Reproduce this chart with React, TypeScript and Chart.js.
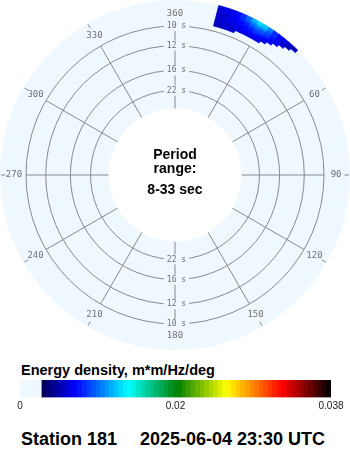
import React, { useEffect, useRef } from 'react';
import { Chart, registerables } from 'chart.js';

Chart.register(...registerables);

// ---------------- data ----------------
const directionLabels = ['360', '30', '60', '90', '120', '150', '180', '210', '240', '270', '300', '330'];
const periodRings = [22, 16, 12, 10]; // seconds
const periodRange = [8, 33]; // seconds
const stationName = 'Station 181';
const timestamp = '2025-06-04 23:30 UTC';
const colorbarTitle = 'Energy density, m*m/Hz/deg';
const colorbarTickValues = [0, 0.019, 0.038];
const colorbarTickLabels = ['0', '0.02', '0.038'];
const energyMin = 0;
const energyMax = 0.038;
const energyThreshold = 0.0026;

// spectrum cells: direction bin edges (deg) and frequency bin edges (Hz)
const dirEdges = [14.5, 16.5, 18.5, 20.5, 22.5, 24.5, 26.5, 28.5, 30.5, 32.5, 34.5, 36.5, 38.5, 40.5, 42.5, 44.5];
const freqEdges = [0.1042, 0.1063, 0.1084, 0.1106, 0.1127, 0.1148, 0.1169, 0.119, 0.122];
// energy density per frequency bin (inner -> outer), one value per direction bin
const energyF1 = [0.0052, 0.0053, 0.0055, 0.0056, 0, 0, 0, 0, 0, 0, 0, 0, 0, 0, 0];
const energyF2 = [0.0053, 0.0055, 0.0057, 0.0058, 0.006, 0.0061, 0.0062, 0.0063, 0.0062, 0, 0, 0, 0, 0, 0];
const energyF3 = [0.0054, 0.0056, 0.0058, 0.006, 0.0062, 0.0065, 0.0067, 0.0069, 0.0068, 0.0064, 0, 0, 0, 0, 0];
const energyF4 = [0.0055, 0.0057, 0.006, 0.0062, 0.0065, 0.0069, 0.0073, 0.0076, 0.0075, 0.007, 0.0063, 0, 0, 0, 0];
const energyF5 = [0.0056, 0.0058, 0.0061, 0.0064, 0.0068, 0.0074, 0.008, 0.0084, 0.0082, 0.0076, 0.0068, 0.006, 0, 0, 0];
const energyF6 = [0.0057, 0.0059, 0.0062, 0.0066, 0.0072, 0.008, 0.0088, 0.0094, 0.0092, 0.0082, 0.0072, 0.0063, 0.0056, 0, 0];
const energyF7 = [0.0058, 0.006, 0.0063, 0.0068, 0.0076, 0.0088, 0.01, 0.0108, 0.0104, 0.009, 0.0076, 0.0066, 0.0058, 0.0053, 0];
const energyF8 = [0.0058, 0.006, 0.0064, 0.007, 0.008, 0.0094, 0.011, 0.0124, 0.0118, 0.0098, 0.008, 0.0068, 0.006, 0.0055, 0.005];
const energyRows = [energyF1, energyF2, energyF3, energyF4, energyF5, energyF6, energyF7, energyF8];

// ---------------- style ----------------
const DISC = '#f0f8ff';
const GRID = '#8a8a8a';
const LABEL = '#707070';
const CLEAR = 'rgba(0,0,0,0)';
const LEVELS = 64;
const centerFreq = -0.0259; // frequency at the centre of the radial axis
const ringMaxFreq = 0.1; // spokes end at the 10 s ring
const discOuterFreq = 0.122;
const labelFreq = 0.1102;
const tickFreqs = [0.1173, 0.1211];
const SANS = '"Liberation Sans", Arial, Helvetica, sans-serif';
const MONO = '"DejaVu Sans Mono", "Liberation Mono", monospace';

const anchors: [number, number[]][] = [
  [0, [0, 0, 80]],
  [0.118, [0, 0, 255]],
  [0.3, [0, 255, 255]],
  [0.47, [0, 128, 0]],
  [0.64, [255, 255, 0]],
  [0.83, [255, 0, 0]],
  [1, [0, 0, 0]],
];

function colormap(t: number) {
  const x = Math.max(0, Math.min(1, t));
  for (let i = 1; i < anchors.length; i++) {
    const [t1, c1] = anchors[i];
    const [t0, c0] = anchors[i - 1];
    if (x <= t1) {
      const u = (x - t0) / (t1 - t0);
      const c = c0.map((v, k) => Math.round(v + (c1[k] - v) * u));
      return `rgb(${c[0]},${c[1]},${c[2]})`;
    }
  }
  return 'rgb(0,0,0)';
}

function energyColor(v: number) {
  if (!(v > 0)) return CLEAR;
  const t = (v - energyThreshold) / (energyMax - energyThreshold);
  const q = (Math.min(LEVELS - 1, Math.floor(t * LEVELS)) + 0.5) / LEVELS;
  return colormap(q);
}

function buildDatasets() {
  return energyRows.map((row, k) => {
    const colors = [CLEAR, ...row.map(energyColor), CLEAR];
    const angles = [
      dirEdges[0],
      ...row.map((_, j) => dirEdges[j + 1] - dirEdges[j]),
      360 - dirEdges[dirEdges.length - 1],
    ];
    return {
      data: angles.map(() => freqEdges[k + 1]),
      angle: angles,
      innerFreq: freqEdges[k],
      backgroundColor: colors,
      borderColor: colors,
      borderWidth: colors.map((c) => (c === CLEAR ? 0 : 0.8)),
      clip: false,
    } as any;
  });
}

const polarDecor = {
  id: 'polarDecor',
  afterDatasetUpdate(chart: any, args: any) {
    const ds = chart.data.datasets[args.index];
    const s = chart.scales.r;
    if (ds.innerFreq == null || !s) return;
    const inner = s.getDistanceFromCenterForValue(ds.innerFreq);
    args.meta.data.forEach((arc: any) => {
      arc.innerRadius = inner;
    });
  },
  beforeDraw(chart: any) {
    const s = chart.scales.r;
    const ctx = chart.ctx;
    ctx.save();
    ctx.fillStyle = DISC;
    ctx.beginPath();
    ctx.arc(s.xCenter, s.yCenter, s.getDistanceFromCenterForValue(discOuterFreq), 0, Math.PI * 2);
    ctx.fill();
    ctx.restore();
  },
  beforeDatasetsDraw(chart: any) {
    const s = chart.scales.r;
    const ctx = chart.ctx;
    ctx.save();
    // direction labels and outer ticks
    ctx.font = `9px ${MONO}`;
    ctx.fillStyle = LABEL;
    ctx.strokeStyle = GRID;
    ctx.lineWidth = 1;
    ctx.textAlign = 'center';
    ctx.textBaseline = 'middle';
    chart.data.labels.forEach((lab: string, i: number) => {
      const p = s.getPointPosition(i, s.getDistanceFromCenterForValue(labelFreq));
      ctx.fillText(lab, p.x, p.y);
      if (i % 6 !== 0) {
        const a = s.getPointPosition(i, s.getDistanceFromCenterForValue(tickFreqs[0]));
        const b = s.getPointPosition(i, s.getDistanceFromCenterForValue(tickFreqs[1]));
        ctx.beginPath();
        ctx.moveTo(a.x, a.y);
        ctx.lineTo(b.x, b.y);
        ctx.stroke();
      }
    });
    // period labels on the vertical axis
    ctx.font = `8px ${MONO}`;
    periodRings.forEach((p) => {
      const r = s.getDistanceFromCenterForValue(1 / p);
      const text = `${p} s`;
      const w = ctx.measureText(text).width;
      [-1, 1].forEach((sg) => {
        const y = s.yCenter + sg * r;
        ctx.fillStyle = DISC;
        ctx.fillRect(s.xCenter + 1.5 - w / 2 - 3, y - 5, w + 6, 10);
        ctx.fillStyle = LABEL;
        ctx.fillText(text, s.xCenter + 1.5, y);
      });
    });
    ctx.restore();
  },
  afterDatasetsDraw(chart: any) {
    const s = chart.scales.r;
    const ctx = chart.ctx;
    ctx.save();
    ctx.fillStyle = '#ffffff';
    ctx.beginPath();
    ctx.arc(s.xCenter, s.yCenter, s.getDistanceFromCenterForValue(1 / periodRange[1]), 0, Math.PI * 2);
    ctx.fill();
    ctx.fillStyle = '#000000';
    ctx.font = `bold 14px ${SANS}`;
    ctx.textAlign = 'center';
    ctx.textBaseline = 'alphabetic';
    ctx.fillText('Period', s.xCenter, s.yCenter - 16);
    ctx.fillText('range:', s.xCenter, s.yCenter - 2);
    ctx.fillText(`${periodRange[0]}-${periodRange[1]} sec`, s.xCenter, s.yCenter + 19);
    ctx.restore();
  },
};

function colorbarGradient(c: any) {
  const ch = c.chart;
  const x = ch.scales && ch.scales.x;
  if (!x) return 'rgb(0,0,255)';
  const x0 = x.getPixelForValue(energyThreshold);
  const x1 = x.getPixelForValue(energyMax);
  if (!Number.isFinite(x0) || !Number.isFinite(x1) || x1 <= x0) return 'rgb(0,0,255)';
  const g = ch.ctx.createLinearGradient(x0, 0, x1, 0);
  for (let i = 0; i < LEVELS; i++) {
    const col = colormap((i + 0.5) / LEVELS);
    g.addColorStop(i / LEVELS, col);
    g.addColorStop((i + 1) / LEVELS, col);
  }
  return g;
}

export default function App() {
  const polarRef = useRef<HTMLCanvasElement>(null);
  const barRef = useRef<HTMLCanvasElement>(null);

  useEffect(() => {
    const polar = new Chart(polarRef.current as HTMLCanvasElement, {
      type: 'polarArea',
      data: { labels: directionLabels, datasets: buildDatasets() },
      options: {
        responsive: false,
        animation: false,
        events: [],
        layout: { padding: 26 },
        plugins: { legend: { display: false }, tooltip: { enabled: false } },
        scales: {
          r: {
            min: centerFreq,
            max: ringMaxFreq,
            startAngle: 0,
            afterBuildTicks: (axis: any) => {
              axis.ticks = periodRings.map((p) => ({ value: 1 / p }));
            },
            ticks: { display: false },
            grid: { circular: true, color: GRID, lineWidth: 1 },
            angleLines: { display: true, color: GRID, lineWidth: 1 },
            pointLabels: { display: false },
          },
        },
      } as any,
      plugins: [polarDecor as any],
    });

    const bar = new Chart(barRef.current as HTMLCanvasElement, {
      type: 'bar',
      data: {
        labels: [''],
        datasets: [
          { data: [[energyMin, energyThreshold]], backgroundColor: DISC } as any,
          { data: [[energyThreshold, energyMax]], backgroundColor: colorbarGradient } as any,
        ],
      },
      options: {
        indexAxis: 'y',
        responsive: false,
        animation: false,
        events: [],
        layout: { padding: { left: 20, right: 19, top: 20, bottom: 0 } },
        plugins: { legend: { display: false }, tooltip: { enabled: false } },
        datasets: { bar: { grouped: false, barPercentage: 1, categoryPercentage: 1, borderWidth: 0 } },
        scales: {
          x: {
            type: 'linear',
            min: energyMin,
            max: energyMax,
            grid: { display: false, drawTicks: false },
            border: { display: false },
            afterBuildTicks: (axis: any) => {
              axis.ticks = colorbarTickValues.map((v) => ({ value: v }));
            },
            ticks: {
              autoSkip: false,
              maxRotation: 0,
              padding: 3,
              color: '#1a1a1a',
              font: { size: 10, family: SANS },
              callback: (_v: any, i: number) => colorbarTickLabels[i],
            },
          },
          y: { display: false },
        },
      } as any,
    });
    bar.update();

    return () => {
      polar.destroy();
      bar.destroy();
    };
  }, []);

  return (
    <div
      style={{
        position: 'absolute',
        left: 0,
        top: 0,
        width: 350,
        height: 450,
        background: '#ffffff',
        fontFamily: SANS,
        color: '#000',
        overflow: 'hidden',
      }}
    >
      <canvas
        ref={polarRef}
        width={350}
        height={350}
        style={{ position: 'absolute', left: 0, top: 0, width: 350, height: 350 }}
      />
      <div
        style={{
          position: 'absolute',
          left: 21,
          top: 363,
          fontSize: 14.5,
          lineHeight: '14px',
          fontWeight: 'bold',
          whiteSpace: 'nowrap',
        }}
      >
        {colorbarTitle}
      </div>
      <canvas
        ref={barRef}
        width={350}
        height={55}
        style={{ position: 'absolute', left: 0, top: 360, width: 350, height: 55 }}
      />
      <div
        style={{
          position: 'absolute',
          left: 21,
          top: 430,
          fontSize: 18,
          lineHeight: '18px',
          fontWeight: 'bold',
          whiteSpace: 'nowrap',
        }}
      >
        {stationName}
      </div>
      <div
        style={{
          position: 'absolute',
          left: 140,
          top: 430,
          fontSize: 18,
          lineHeight: '18px',
          fontWeight: 'bold',
          whiteSpace: 'nowrap',
        }}
      >
        {timestamp}
      </div>
    </div>
  );
}
